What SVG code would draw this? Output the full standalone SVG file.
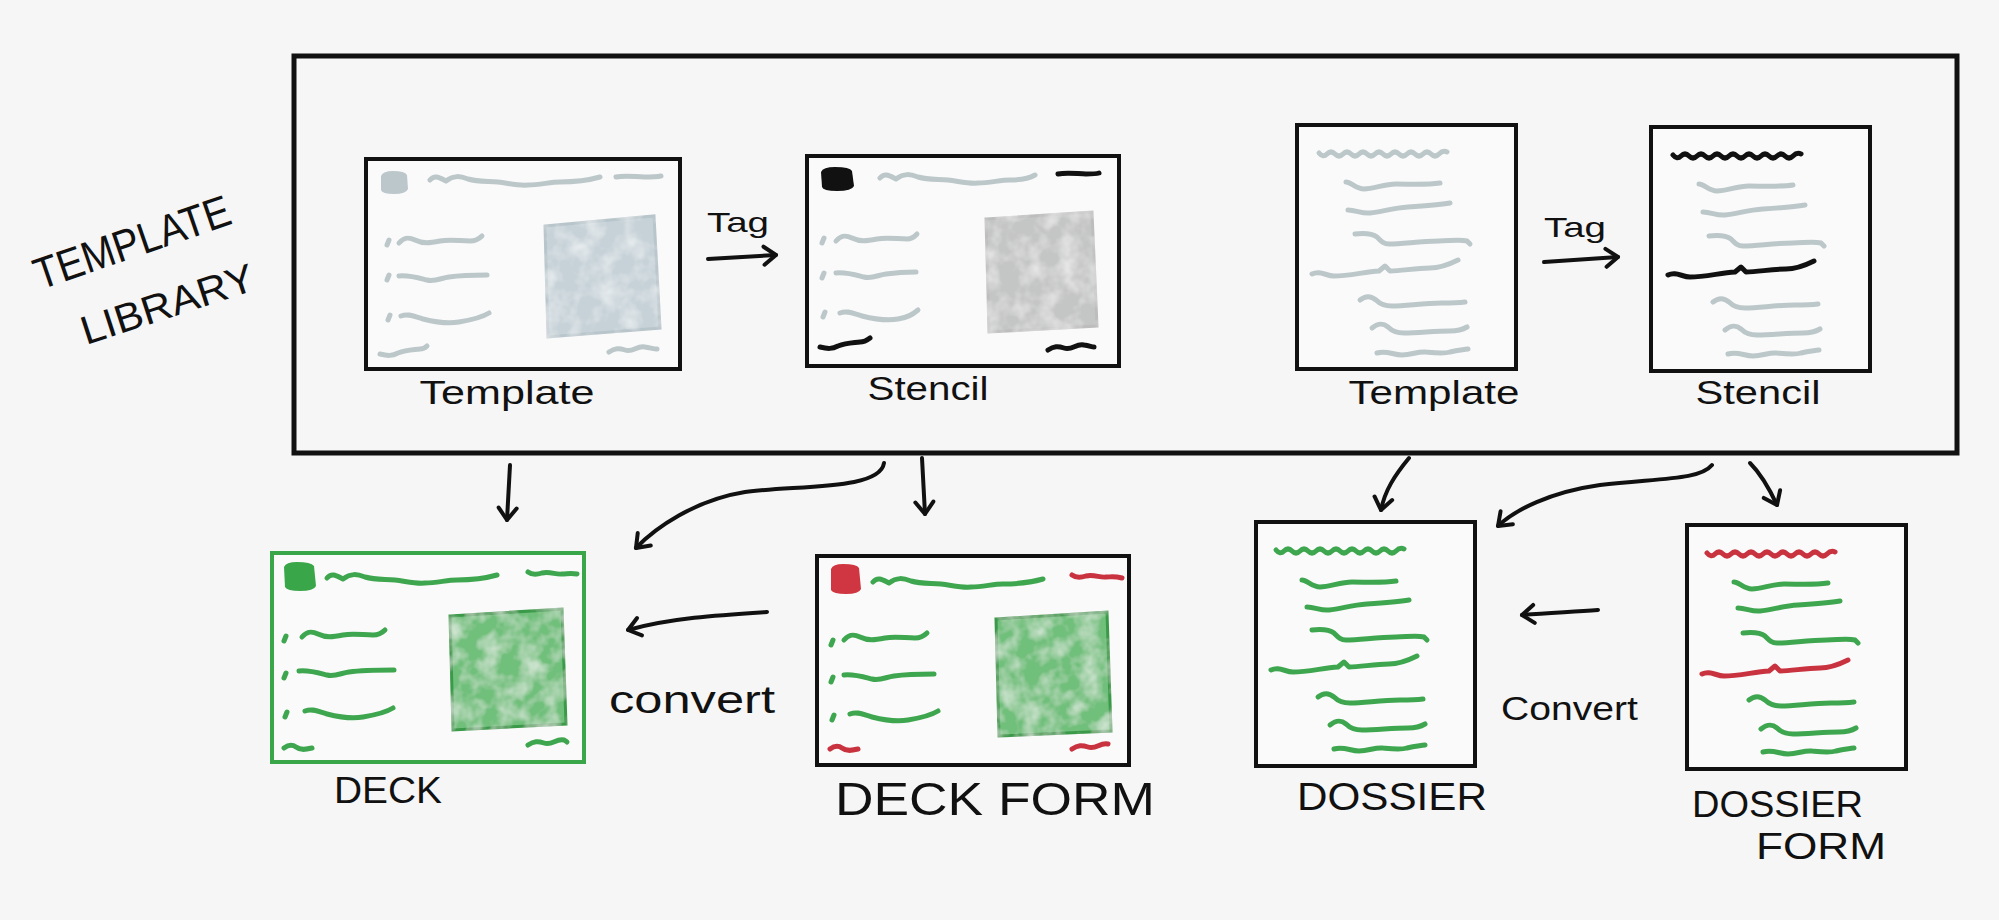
<svg xmlns="http://www.w3.org/2000/svg" width="1999" height="920" viewBox="0 0 1999 920">
<style>
.bg{fill:#f6f6f6}
.frame{fill:none;stroke:#111;stroke-width:5}
.box{fill:#fafafa;stroke:#111;stroke-width:4}
.boxg{fill:#fafafa;stroke:#3aa64a;stroke-width:4}
.w{fill:none;stroke-width:5;stroke-linecap:round;stroke-linejoin:round}
.gy{stroke:#bcc7ca}
.gn{stroke:#3fa650}
.rd{stroke:#c9323f}
.bk{stroke:#111}
.arr{fill:none;stroke:#111;stroke-width:4;stroke-linecap:round;marker-end:url(#ah)}
.hand{font-family:"Liberation Sans","DejaVu Sans",sans-serif;fill:#111}
</style>
<defs>
<marker id="ah" markerUnits="userSpaceOnUse" markerWidth="30" markerHeight="30" refX="15" refY="15" orient="auto">
<path d="M3,6 L15,15 L3,24" fill="none" stroke="#111" stroke-width="4" stroke-linecap="round" stroke-linejoin="round"/>
</marker>
<filter id="wc" x="-0.05" y="-0.05" width="1.1" height="1.1">
<feTurbulence type="fractalNoise" baseFrequency="0.05" numOctaves="3" seed="4" result="n"/>
<feColorMatrix in="n" type="matrix" values="0 0 0 0 1 0 0 0 0 1 0 0 0 0 1 1.1 0 0 0 -0.42" result="wt"/>
<feComposite in="wt" in2="SourceGraphic" operator="in" result="wm"/>
<feMerge><feMergeNode in="SourceGraphic"/><feMergeNode in="wm"/></feMerge>
</filter>
</defs>
<rect class="bg" x="0" y="0" width="1999" height="920"/>

<g id="library-label">
<text class="hand" font-size="44" transform="translate(40,290) rotate(-19)" textLength="205" lengthAdjust="spacingAndGlyphs">TEMPLATE</text>
<text class="hand" font-size="40" transform="translate(86,345) rotate(-18)" textLength="180" lengthAdjust="spacingAndGlyphs">LIBRARY</text>
</g>

<g id="template-library">
<rect class="frame" x="294" y="56" width="1663" height="397"/>
</g>

<g id="deck-template">
<rect class="box" x="366" y="159" width="314" height="210"/>
<path d="M381,176 q2,-5 12,-5 q12,0 14,4 l1,14 q-2,5 -14,5 q-12,0 -13,-4 z" fill="#bcc7cc"/>
<path class="w gy" d="M430,180 c5,-6 10,-2 16,1 c8,-6 14,-5 22,-2 c10,3 20,2 30,3 c10,1 20,4 30,3 c12,0 22,-3 32,-3 c14,0 26,-1 40,-5"/>
<path class="w gy" d="M616,177 c10,-2 20,0 28,0 c8,0 12,0 17,-1"/>
<path class="w gy" d="M387,245 l2,-5 M387,280 l2,-5 M388,320 l2,-5"/>
<path class="w gy" d="M399,243 c5,-6 10,-6 16,-3 c8,4 15,3 25,1 c10,-2 20,0 30,0 c6,0 10,-3 12,-5"/>
<path class="w gy" d="M399,276 c10,-1 20,2 28,4 c8,2 14,-2 22,-3 c14,-2 26,-2 38,-2"/>
<path class="w gy" d="M401,316 c8,-3 14,1 22,3 c12,3 25,5 36,3 c12,-2 22,-4 30,-9"/>
<path class="w gy" d="M380,354 c8,2 12,2 18,-1 c8,-3 14,-3 22,-4 c3,0 5,-1 7,-3"/>
<path class="w gy" d="M609,352 c6,-4 10,-4 16,-2 c8,3 12,-5 20,-3 c6,1 10,2 12,2"/>
<polygon points="545,226 654,216 660,328 548,337" fill="#c6d2d8" stroke="#b8c5cb" stroke-width="3" filter="url(#wc)"/>
<text class="hand" font-size="34" x="507" y="404" text-anchor="middle" textLength="175" lengthAdjust="spacingAndGlyphs">Template</text>
</g>

<g id="deck-stencil">
<rect class="box" x="807" y="156" width="312" height="210"/>
<path d="M821,172 q2,-5 14,-5 q15,0 17,4 l2,15 q-2,5 -17,5 q-14,0 -15,-4 z" fill="#111"/>
<path class="w gy" d="M880,178 c5,-6 10,-2 16,1 c8,-6 14,-5 22,-2 c10,3 20,2 30,3 c10,1 20,4 30,3 c12,0 22,-3 32,-3 c10,0 18,-1 25,-5"/>
<path class="w bk" d="M1058,174 c10,-2 20,0 28,0 c8,0 10,0 13,-1"/>
<path class="w gy" d="M822,243 l2,-5 M822,278 l2,-5 M823,317 l2,-5"/>
<path class="w gy" d="M836,241 c5,-6 10,-6 16,-3 c8,4 15,3 25,1 c10,-2 20,0 30,0 c6,0 8,-3 10,-5"/>
<path class="w gy" d="M836,273 c10,-1 20,2 28,4 c8,2 14,-2 22,-3 c14,-2 20,-2 30,-2"/>
<path class="w gy" d="M840,313 c8,-3 14,1 22,3 c12,3 25,5 36,3 c10,-2 14,-4 20,-9"/>
<path class="w bk" d="M820,347 c8,2 12,2 18,-1 c8,-3 14,-3 22,-4 c4,0 6,-1 10,-4"/>
<path class="w bk" d="M1048,350 c6,-4 10,-4 16,-2 c8,3 12,-5 20,-3 c6,1 8,2 10,2"/>
<polygon points="986,219 1092,212 1097,326 989,332" fill="#c4c5c5" stroke="#bdbdbd" stroke-width="3" filter="url(#wc)"/>
<text class="hand" font-size="34" x="928" y="400" text-anchor="middle" textLength="121" lengthAdjust="spacingAndGlyphs">Stencil</text>
</g>

<g id="dossier-template">
<rect class="box" x="1297" y="125" width="219" height="244"/>
<path class="w gy" d="M1319,153 q4,5 8,1 t8,0 t8,0 t8,0 t8,0 t8,0 t8,0 t8,0 t8,0 t8,0 t8,0 t8,0 t8,0 t8,0 t8,0 t8,-2"/>
<path class="w gy" d="M1346,182 c5,0 10,7 18,7 c10,0 20,-5 32,-5 c15,0 30,1 44,-1"/>
<path class="w gy" d="M1348,210 c8,0 14,4 22,3 c12,-1 22,-5 38,-6 c15,-1 30,-2 42,-4"/>
<path class="w gy" d="M1355,234 c10,-1 18,0 22,3 c4,4 6,7 12,7 c15,0 30,-3 50,-3 c10,0 20,-2 28,0 l3,3"/>
<path class="w gy" d="M1312,274 c8,-4 14,2 22,2 c15,0 30,-4 45,-5 l6,-5 l5,5 c12,0 25,-3 40,-3 c10,0 18,-3 28,-8"/>
<path class="w gy" d="M1360,300 c5,-4 10,-5 16,0 c4,4 8,6 16,6 c15,0 30,-3 50,-3 c8,0 15,0 23,-1"/>
<path class="w gy" d="M1372,328 c5,-4 10,-6 16,-1 c4,4 8,6 16,6 c15,0 30,-2 46,-2 c8,0 12,-1 17,-4"/>
<path class="w gy" d="M1377,353 c10,-3 16,2 25,2 c10,0 16,-4 24,-3 c10,1 18,2 24,0 c8,-2 12,-2 18,-3"/>
<text class="hand" font-size="34" x="1434" y="404" text-anchor="middle" textLength="171" lengthAdjust="spacingAndGlyphs">Template</text>
</g>

<g id="dossier-stencil">
<rect class="box" x="1651" y="127" width="219" height="244"/>
<path class="w bk" d="M1673,155 q4,5 8,1 t8,0 t8,0 t8,0 t8,0 t8,0 t8,0 t8,0 t8,0 t8,0 t8,0 t8,0 t8,0 t8,0 t8,0 t8,-2"/>
<path class="w gy" d="M1699,184 c5,0 10,7 18,7 c10,0 20,-5 32,-5 c15,0 30,1 44,-1"/>
<path class="w gy" d="M1703,212 c8,0 14,4 22,3 c12,-1 22,-5 38,-6 c15,-1 30,-2 42,-4"/>
<path class="w gy" d="M1709,236 c10,-1 18,0 22,3 c4,4 6,7 12,7 c15,0 30,-3 50,-3 c10,0 20,-2 28,0 l3,3"/>
<path class="w bk" d="M1668,275 c8,-4 14,2 22,2 c15,0 30,-4 45,-5 l6,-5 l5,5 c12,0 25,-3 40,-3 c10,0 18,-3 28,-8"/>
<path class="w gy" d="M1713,302 c5,-4 10,-5 16,0 c4,4 8,6 16,6 c15,0 30,-3 50,-3 c8,0 15,0 23,-1"/>
<path class="w gy" d="M1725,330 c5,-4 10,-6 16,-1 c4,4 8,6 16,6 c15,0 30,-2 46,-2 c8,0 12,-1 17,-4"/>
<path class="w gy" d="M1728,354 c10,-3 16,2 25,2 c10,0 16,-4 24,-3 c10,1 18,2 24,0 c8,-2 12,-2 18,-3"/>
<text class="hand" font-size="34" x="1758" y="404" text-anchor="middle" textLength="125" lengthAdjust="spacingAndGlyphs">Stencil</text>
</g>

<g id="deck">
<rect class="boxg" x="272" y="553" width="312" height="209"/>
<path d="M284,567 q2,-5 13,-5 q14,0 17,4 l2,20 q-2,5 -16,5 q-13,0 -15,-4 z" fill="#3aa64a"/>
<path class="w gn" d="M327,578 c5,-6 10,-2 16,1 c8,-6 14,-5 22,-2 c10,3 20,2 30,3 c10,1 20,4 30,3 c12,0 22,-3 32,-3 c14,0 26,-1 40,-5"/>
<path class="w gn" d="M528,572 c4,3 8,3 14,1 c8,-2 14,2 20,1 c5,0 8,-1 15,0"/>
<path class="w gn" d="M284,641 l2,-5 M284,678 l2,-5 M285,717 l2,-5"/>
<path class="w gn" d="M302,637 c5,-6 10,-6 16,-3 c8,4 15,3 25,1 c10,-2 20,0 30,0 c6,0 10,-3 12,-5"/>
<path class="w gn" d="M299,671 c10,-1 20,2 28,4 c8,2 14,-2 22,-3 c14,-2 30,-2 45,-2"/>
<path class="w gn" d="M305,711 c8,-3 14,1 22,3 c12,3 25,5 36,3 c12,-2 22,-4 30,-9"/>
<path class="w gn" d="M284,748 c4,-3 8,-4 12,-1 c4,3 8,3 16,1"/>
<path class="w gn" d="M528,745 c6,-4 10,-4 16,-2 c8,3 12,-5 20,-3 c2,1 3,2 3,2"/>
<polygon points="450,616 562,609 566,724 453,730" fill="#6fbf7a" stroke="#3a9a48" stroke-width="3" filter="url(#wc)"/>
<text class="hand" font-size="36" x="334" y="803" textLength="108" lengthAdjust="spacingAndGlyphs">DECK</text>
</g>

<g id="deck-form">
<rect class="box" x="817" y="556" width="312" height="209"/>
<path d="M831,569 q2,-5 12,-5 q14,0 16,4 l2,21 q-2,5 -15,5 q-13,0 -15,-4 z" fill="#cf3641"/>
<path class="w gn" d="M873,582 c5,-6 10,-2 16,1 c8,-6 14,-5 22,-2 c10,3 20,2 30,3 c10,1 20,4 30,3 c12,0 22,-3 32,-3 c14,0 26,-1 40,-5"/>
<path class="w rd" d="M1072,575 c4,3 8,3 14,1 c8,-2 14,2 20,1 c5,0 8,-1 16,1"/>
<path class="w gn" d="M831,645 l2,-5 M831,682 l2,-5 M832,720 l2,-5"/>
<path class="w gn" d="M844,640 c5,-6 10,-6 16,-3 c8,4 15,3 25,1 c10,-2 20,0 30,0 c6,0 10,-3 12,-5"/>
<path class="w gn" d="M844,675 c10,-1 20,2 28,4 c8,2 14,-2 22,-3 c14,-2 28,-2 40,-2"/>
<path class="w gn" d="M850,714 c8,-3 14,1 22,3 c12,3 25,5 36,3 c12,-2 22,-4 30,-9"/>
<path class="w rd" d="M830,749 c4,-3 8,-4 12,-1 c4,3 8,3 16,1"/>
<path class="w rd" d="M1072,749 c6,-4 10,-4 16,-2 c8,3 12,-5 20,-3"/>
<polygon points="996,619 1107,612 1111,731 999,736" fill="#6fbf7a" stroke="#3a9a48" stroke-width="3" filter="url(#wc)"/>
<text class="hand" font-size="46" x="835" y="815" textLength="320" lengthAdjust="spacingAndGlyphs">DECK FORM</text>
</g>

<g id="dossier">
<rect class="box" x="1256" y="522" width="219" height="244"/>
<path class="w gn" d="M1276,550 q4,5 8,1 t8,0 t8,0 t8,0 t8,0 t8,0 t8,0 t8,0 t8,0 t8,0 t8,0 t8,0 t8,0 t8,0 t8,0 t8,-2"/>
<path class="w gn" d="M1302,580 c5,0 10,7 18,7 c10,0 20,-5 32,-5 c15,0 30,1 44,-1"/>
<path class="w gn" d="M1307,607 c8,0 14,4 22,3 c12,-1 22,-5 38,-6 c15,-1 30,-2 42,-4"/>
<path class="w gn" d="M1312,630 c10,-1 18,0 22,3 c4,4 6,7 12,7 c15,0 30,-3 50,-3 c10,0 20,-2 28,0 l3,3"/>
<path class="w gn" d="M1271,670 c8,-4 14,2 22,2 c15,0 30,-4 45,-5 l6,-5 l5,5 c12,0 25,-3 40,-3 c10,0 18,-3 28,-8"/>
<path class="w gn" d="M1318,697 c5,-4 10,-5 16,0 c4,4 8,6 16,6 c15,0 30,-3 50,-3 c8,0 15,0 23,-1"/>
<path class="w gn" d="M1330,725 c5,-4 10,-6 16,-1 c4,4 8,6 16,6 c15,0 30,-2 46,-2 c8,0 12,-1 17,-4"/>
<path class="w gn" d="M1334,749 c10,-3 16,2 25,2 c10,0 16,-4 24,-3 c10,1 18,2 24,0 c8,-2 12,-2 18,-3"/>
<text class="hand" font-size="38" x="1297" y="810" textLength="190" lengthAdjust="spacingAndGlyphs">DOSSIER</text>
</g>

<g id="dossier-form">
<rect class="box" x="1687" y="525" width="219" height="244"/>
<path class="w rd" d="M1707,553 q4,5 8,1 t8,0 t8,0 t8,0 t8,0 t8,0 t8,0 t8,0 t8,0 t8,0 t8,0 t8,0 t8,0 t8,0 t8,0 t8,-2"/>
<path class="w gn" d="M1734,582 c5,0 10,7 18,7 c10,0 20,-5 32,-5 c15,0 30,1 44,-1"/>
<path class="w gn" d="M1738,608 c8,0 14,4 22,3 c12,-1 22,-5 38,-6 c15,-1 30,-2 42,-4"/>
<path class="w gn" d="M1743,633 c10,-1 18,0 22,3 c4,4 6,7 12,7 c15,0 30,-3 50,-3 c10,0 20,-2 28,0 l3,3"/>
<path class="w rd" d="M1702,674 c8,-4 14,2 22,2 c15,0 30,-4 45,-5 l6,-5 l5,5 c12,0 25,-3 40,-3 c10,0 18,-3 28,-8"/>
<path class="w gn" d="M1749,700 c5,-4 10,-5 16,0 c4,4 8,6 16,6 c15,0 30,-3 50,-3 c8,0 15,0 23,-1"/>
<path class="w gn" d="M1761,729 c5,-4 10,-6 16,-1 c4,4 8,6 16,6 c15,0 30,-2 46,-2 c8,0 12,-1 17,-4"/>
<path class="w gn" d="M1763,752 c10,-3 16,2 25,2 c10,0 16,-4 24,-3 c10,1 18,2 24,0 c8,-2 12,-2 18,-3"/>
<text class="hand" font-size="36" x="1692" y="817" textLength="171" lengthAdjust="spacingAndGlyphs">DOSSIER</text>
<text class="hand" font-size="36" x="1756" y="859" textLength="130" lengthAdjust="spacingAndGlyphs">FORM</text>
</g>

<g id="connectors">
<path class="arr" d="M708,259 L776,255"/>
<text class="hand" font-size="28" x="707" y="232" textLength="62" lengthAdjust="spacingAndGlyphs">Tag</text>
<path class="arr" d="M1544,262 L1618,257"/>
<text class="hand" font-size="28" x="1544" y="237" textLength="62" lengthAdjust="spacingAndGlyphs">Tag</text>
<path class="arr" d="M510,465 L507,520"/>
<path class="arr" d="M884,463 C880,490 800,485 745,492 C695,500 655,528 636,548"/>
<path class="arr" d="M922,458 L925,514"/>
<path class="arr" d="M767,612 C720,615 670,618 628,630"/>
<text class="hand" font-size="38" x="609" y="713" textLength="166" lengthAdjust="spacingAndGlyphs">convert</text>
<path class="arr" d="M1409,458 C1395,475 1385,490 1381,510"/>
<path class="arr" d="M1712,465 C1700,480 1660,478 1600,485 C1550,492 1515,510 1498,526"/>
<path class="arr" d="M1750,463 C1762,475 1770,490 1777,505"/>
<path class="arr" d="M1598,610 C1570,612 1545,613 1522,615"/>
<text class="hand" font-size="34" x="1501" y="720" textLength="137" lengthAdjust="spacingAndGlyphs">Convert</text>
</g>
</svg>
